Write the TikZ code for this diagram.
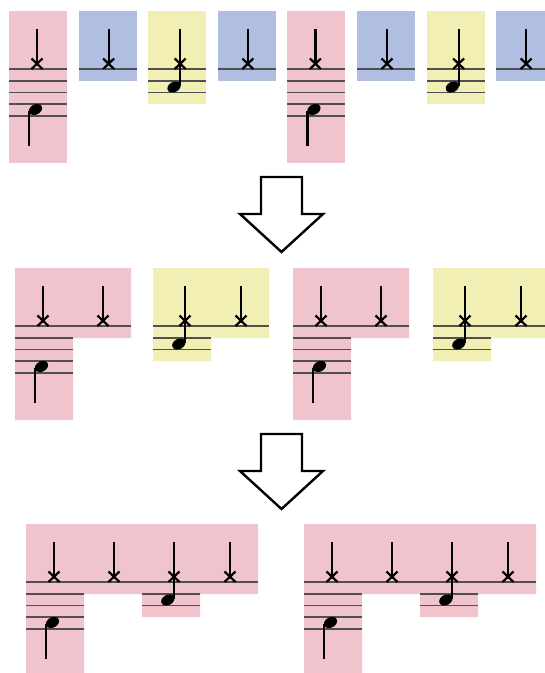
\documentclass[tikz,border=0pt]{standalone}
\definecolor{pinkc}{RGB}{239,196,205}
\definecolor{bluec}{RGB}{176,190,226}
\definecolor{yellowc}{RGB}{242,239,181}
\definecolor{staffc}{RGB}{80,80,80}
\tikzset{
  staffline/.style={draw=staffc,line width=1.7pt},
  stemline/.style={draw=black,line width=2.2pt},
  xline/.style={draw=black,line width=2.2pt},
  bigarrow/.style={draw=black,fill=white,line width=2.4pt,line join=miter},
}
% X notehead with up-stem: #1 stem x, #2 top staff line y
\newcommand\Xhead[2]{%
  \draw[stemline] (#1,#2-40) -- (#1,#2-5);
  \draw[xline] (#1-5.5,#2-10.5) -- (#1+5.5,#2) (#1-5.5,#2) -- (#1+5.5,#2-10.5);}
% filled note, stem down (pink): #1 X stem x, #2 top line
\newcommand\Dnote[2]{%
  \fill[rotate around={28:(#1-1.5,#2+40.5)}] (#1-1.5,#2+40.5) ellipse [x radius=7, y radius=5.1];
  \draw[stemline] (#1-8,#2+41.5) -- (#1-8,#2+77);}
% filled note, stem up (yellow): #1 stem x, #2 top line
\newcommand\Unote[2]{%
  \fill[rotate around={28:(#1-6.2,#2+18)}] (#1-6.2,#2+18) ellipse [x radius=7, y radius=5.1];
  \draw[stemline] (#1,#2+16.5) -- (#1,#2-40);}
\newcommand\PDet[2]{%
  \foreach \k in {0,...,4}{\draw[staffline] (#1,#2+11.7*\k) -- (#1+58,#2+11.7*\k);}
  \Xhead{#1+28}{#2}\Dnote{#1+28}{#2}}
\newcommand\BDet[2]{%
  \draw[staffline] (#1,#2) -- (#1+58,#2);
  \Xhead{#1+30}{#2}}
\newcommand\YDet[2]{%
  \foreach \k in {0,...,2}{\draw[staffline] (#1,#2+11.7*\k) -- (#1+58,#2+11.7*\k);}
  \Xhead{#1+32}{#2}\Unote{#1+32}{#2}}
\newcommand\DownArrow[1]{%
  \draw[bigarrow] (261,#1) -- (302,#1) -- (302,#1+37) -- (323,#1+37) -- (281.5,#1+75) -- (240,#1+37) -- (261,#1+37) -- cycle;}
\begin{document}
\begin{tikzpicture}[x=1pt,y=-1pt]
\clip (0,0) rectangle (545,673);
\fill[white] (0,0) rectangle (545,673);
% ---------- row 1 ----------
\def\T{69}
\fill[pinkc]   (9,\T-58) rectangle (67,\T+94);
\fill[bluec]   (78.6,\T-58) rectangle (136.6,\T+12);
\fill[yellowc] (148.2,\T-58) rectangle (206.2,\T+35);
\fill[bluec]   (217.8,\T-58) rectangle (275.8,\T+12);
\fill[pinkc]   (287.4,\T-58) rectangle (345.4,\T+94);
\fill[bluec]   (357,\T-58) rectangle (415,\T+12);
\fill[yellowc] (426.6,\T-58) rectangle (484.6,\T+35);
\fill[bluec]   (496.2,\T-58) rectangle (554.2,\T+12);
\PDet{9}{\T}
\BDet{78.6}{\T}
\YDet{148.2}{\T}
\BDet{217.8}{\T}
\PDet{287.4}{\T}
\BDet{357}{\T}
\YDet{426.6}{\T}
\BDet{496.2}{\T}
% ---------- arrows ----------
\DownArrow{177}
\DownArrow{434}
% ---------- row 2 ----------
\def\T{326}
\foreach \L in {15,293}{
  \fill[pinkc] (\L,\T-58) -- (\L+116,\T-58) -- (\L+116,\T+12) -- (\L+58,\T+12) -- (\L+58,\T+94) -- (\L,\T+94) -- cycle;}
\foreach \L in {153,433}{
  \fill[yellowc] (\L,\T-58) -- (\L+116,\T-58) -- (\L+116,\T+12) -- (\L+58,\T+12) -- (\L+58,\T+35) -- (\L,\T+35) -- cycle;}
\PDet{15}{\T}\BDet{73}{\T}
\YDet{153}{\T}\BDet{211}{\T}
\PDet{293}{\T}\BDet{351}{\T}
\YDet{433}{\T}\BDet{491}{\T}
% ---------- row 3 ----------
\def\T{582}
\foreach \L in {26,304}{
  \fill[pinkc] (\L,\T-58) -- (\L+232,\T-58) -- (\L+232,\T+12) -- (\L+174,\T+12) -- (\L+174,\T+35)
     -- (\L+116,\T+35) -- (\L+116,\T+12) -- (\L+58,\T+12) -- (\L+58,\T+94) -- (\L,\T+94) -- cycle;}
\PDet{26}{\T}\BDet{84}{\T}\YDet{142}{\T}\BDet{200}{\T}
\PDet{304}{\T}\BDet{362}{\T}\YDet{420}{\T}\BDet{478}{\T}
\end{tikzpicture}
\end{document}
